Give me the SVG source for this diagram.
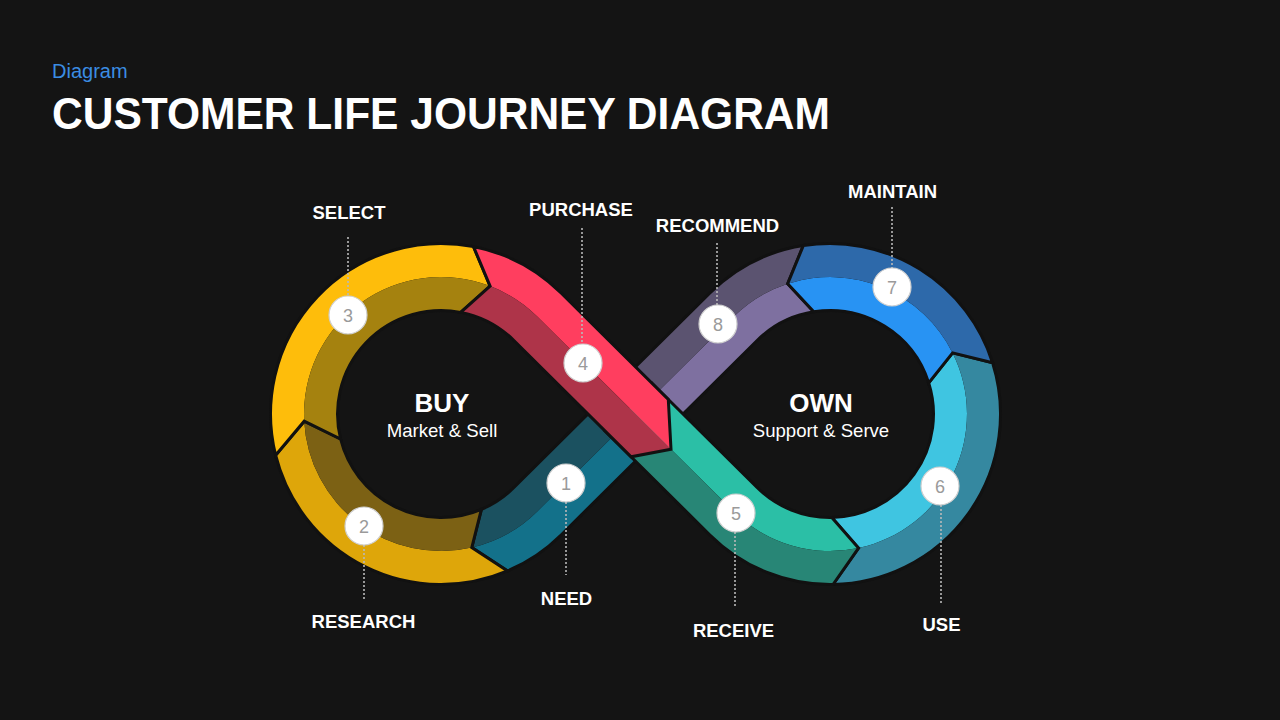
<svg xmlns="http://www.w3.org/2000/svg" width="1280" height="720" viewBox="0 0 1280 720">
<defs>
<style>
.ol{fill:none;stroke:#111;stroke-width:3;stroke-linejoin:miter}
.lbl{font-family:"Liberation Sans",Arial,sans-serif;font-weight:bold;font-size:18.5px;fill:#fff;text-anchor:middle}
.num{font-family:"Liberation Sans",Arial,sans-serif;font-size:18px;fill:#9a9a9a;text-anchor:middle}
.dot{stroke:#b8b8b8;stroke-width:1.6;stroke-dasharray:2 2;fill:none}
.bead{fill:#fff;stroke:#cfcfcf;stroke-width:1.2}
.big{font-family:"Liberation Sans",Arial,sans-serif;font-weight:bold;font-size:26px;fill:#fff;text-anchor:middle}
.sub{font-family:"Liberation Sans",Arial,sans-serif;font-size:18.6px;fill:#fff;text-anchor:middle}
</style>
</defs>
<rect width="1280" height="720" fill="#141414"/>
<text x="52" y="78" font-family="'Liberation Sans',Arial,sans-serif" font-size="20" fill="#3b8de3">Diagram</text>
<text x="52" y="129" font-family="'Liberation Sans',Arial,sans-serif" font-weight="bold" font-size="44" fill="#fff" textLength="778" lengthAdjust="spacingAndGlyphs">CUSTOMER LIFE JOURNEY DIAGRAM</text>

<g id="seg1">
<path fill="#13718a" d="M659.1,437.8 L561.1,535 A170.5,170.5 0 0 1 507.6,570.9 L471.8,547.5 A137,137 0 0 0 537.5,511.2 L635.5,414 Z"/>
<path fill="#1b5160" d="M611.9,390.2 L513.9,487.5 A103.5,103.5 0 0 1 481.4,509.3 L471.8,547.5 A137,137 0 0 0 537.5,511.2 L635.5,414 Z"/>
<path class="ol" d="M659.1,437.8 L561.1,535 A170.5,170.5 0 0 1 507.6,570.9 L471.8,547.5 L481.4,509.3 A103.5,103.5 0 0 0 513.9,487.5 L611.9,390.2 Z"/>
</g>
<g id="seg8">
<path fill="#7e70a0" d="M813.8,311.8 A103.5,103.5 0 0 0 757.1,340.5 L659.1,437.8 L635.5,414 L733.5,316.8 A137,137 0 0 1 787.7,283.7 Z"/>
<path fill="#5b5370" d="M803.3,245.6 A170.5,170.5 0 0 0 709.9,293 L611.9,390.2 L635.5,414 L733.5,316.8 A137,137 0 0 1 787.7,283.7 Z"/>
<path class="ol" d="M803.3,245.6 A170.5,170.5 0 0 0 709.9,293 L611.9,390.2 L659.1,437.8 L757.1,340.5 A103.5,103.5 0 0 1 813.8,311.8 L787.7,283.7 Z"/>
</g>
<g id="seg2">
<path fill="#dea60a" d="M507.6,570.9 A170.5,170.5 0 0 1 275.6,455.2 L304.2,421.2 A137,137 0 0 0 471.8,547.5 Z"/>
<path fill="#7c6114" d="M481.4,509.3 A103.5,103.5 0 0 1 340.6,439 L304.2,421.2 A137,137 0 0 0 471.8,547.5 Z"/>
<path class="ol" d="M507.6,570.9 A170.5,170.5 0 0 1 275.6,455.2 L304.2,421.2 L340.6,439 A103.5,103.5 0 0 0 481.4,509.3 L471.8,547.5 Z"/>
</g>
<g id="seg3">
<path fill="#febd0b" d="M275.6,455.2 A170.5,170.5 0 0 1 473.5,246.6 L490.1,286.1 A137,137 0 0 0 304.2,421.2 Z"/>
<path fill="#a5820f" d="M340.6,439 A103.5,103.5 0 0 1 460.7,312.4 L490.1,286.1 A137,137 0 0 0 304.2,421.2 Z"/>
<path class="ol" d="M275.6,455.2 A170.5,170.5 0 0 1 473.5,246.6 L490.1,286.1 L460.7,312.4 A103.5,103.5 0 0 0 340.6,439 L304.2,421.2 Z"/>
</g>
<g id="seg6">
<path fill="#3fc5e1" d="M831.8,517.5 A103.5,103.5 0 0 0 928.7,382.9 L952.6,352.9 A137,137 0 0 1 858.5,548 Z"/>
<path fill="#3588a0" d="M833,584.5 A170.5,170.5 0 0 0 992.6,362.7 L952.6,352.9 A137,137 0 0 1 858.5,548 Z"/>
<path class="ol" d="M833,584.5 A170.5,170.5 0 0 0 992.6,362.7 L952.6,352.9 L928.7,382.9 A103.5,103.5 0 0 1 831.8,517.5 L858.5,548 Z"/>
</g>
<g id="seg7">
<path fill="#2893f3" d="M928.7,382.9 A103.5,103.5 0 0 0 813.8,311.8 L787.7,283.7 A137,137 0 0 1 952.6,352.9 Z"/>
<path fill="#2d69aa" d="M992.6,362.7 A170.5,170.5 0 0 0 803.3,245.6 L787.7,283.7 A137,137 0 0 1 952.6,352.9 Z"/>
<path class="ol" d="M992.6,362.7 A170.5,170.5 0 0 0 803.3,245.6 L787.7,283.7 L813.8,311.8 A103.5,103.5 0 0 1 928.7,382.9 L952.6,352.9 Z"/>
</g>
<g id="seg5">
<path fill="#2bbfa6" d="M652,383.2 L757.1,487.5 A103.5,103.5 0 0 0 831.8,517.5 L858.5,548 A137,137 0 0 1 733.5,511.2 L628.4,407 Z"/>
<path fill="#288676" d="M604.8,430.7 L709.9,535 A170.5,170.5 0 0 0 833,584.5 L858.5,548 A137,137 0 0 1 733.5,511.2 L628.4,407 Z"/>
<path class="ol" d="M652,383.2 L757.1,487.5 A103.5,103.5 0 0 0 831.8,517.5 L858.5,548 L833,584.5 A170.5,170.5 0 0 1 709.9,535 L604.8,430.7 Z"/>
</g>
<g id="seg4">
<path fill="#ff3e5f" d="M473.5,246.6 A170.5,170.5 0 0 1 561.1,293 L668.3,399.4 L671,449.2 L537.5,316.8 A137,137 0 0 0 490.1,286.1 Z"/>
<path fill="#ae3449" d="M460.7,312.4 A103.5,103.5 0 0 1 513.9,340.5 L631.1,456.8 L671,449.2 L537.5,316.8 A137,137 0 0 0 490.1,286.1 Z"/>
<path class="ol" d="M473.5,246.6 A170.5,170.5 0 0 1 561.1,293 L668.3,399.4 L671,449.2 L631.1,456.8 L513.9,340.5 A103.5,103.5 0 0 0 460.7,312.4 L490.1,286.1 Z"/>
</g>

<g id="connectors">
<line class="dot" x1="348" y1="237" x2="348" y2="297"/>
<line class="dot" x1="582" y1="228" x2="582" y2="345"/>
<line class="dot" x1="717" y1="243" x2="717" y2="306"/>
<line class="dot" x1="892" y1="207" x2="892" y2="269"/>
<line class="dot" x1="364" y1="545" x2="364" y2="600"/>
<line class="dot" x1="566" y1="502" x2="566" y2="575"/>
<line class="dot" x1="735" y1="532" x2="735" y2="607"/>
<line class="dot" x1="941" y1="505" x2="941" y2="604"/>
</g>

<g id="n1"><circle class="bead" cx="566" cy="483" r="19"/><text class="num" x="566" y="489.5">1</text><text class="lbl" x="566.5" y="605">NEED</text></g>
<g id="n2"><circle class="bead" cx="364" cy="526" r="19"/><text class="num" x="364" y="532.5">2</text><text class="lbl" x="363.5" y="628">RESEARCH</text></g>
<g id="n3"><circle class="bead" cx="348" cy="315" r="19"/><text class="num" x="348" y="321.5">3</text><text class="lbl" x="349" y="219">SELECT</text></g>
<g id="n4"><circle class="bead" cx="583" cy="363" r="19"/><text class="num" x="583" y="369.5">4</text><text class="lbl" x="581" y="216">PURCHASE</text></g>
<g id="n5"><circle class="bead" cx="736" cy="513" r="19"/><text class="num" x="736" y="519.5">5</text><text class="lbl" x="733.5" y="636.5">RECEIVE</text></g>
<g id="n6"><circle class="bead" cx="940" cy="486" r="19"/><text class="num" x="940" y="492.5">6</text><text class="lbl" x="941.5" y="631">USE</text></g>
<g id="n7"><circle class="bead" cx="892" cy="287" r="19"/><text class="num" x="892" y="293.5">7</text><text class="lbl" x="892.5" y="198">MAINTAIN</text></g>
<g id="n8"><circle class="bead" cx="718" cy="324" r="19"/><text class="num" x="718" y="330.5">8</text><text class="lbl" x="717.5" y="231.5">RECOMMEND</text></g>

<g id="buy"><text class="big" x="442" y="412">BUY</text><text class="sub" x="442" y="437">Market &amp; Sell</text></g>
<g id="own"><text class="big" x="821" y="412">OWN</text><text class="sub" x="821" y="437">Support &amp; Serve</text></g>
</svg>
